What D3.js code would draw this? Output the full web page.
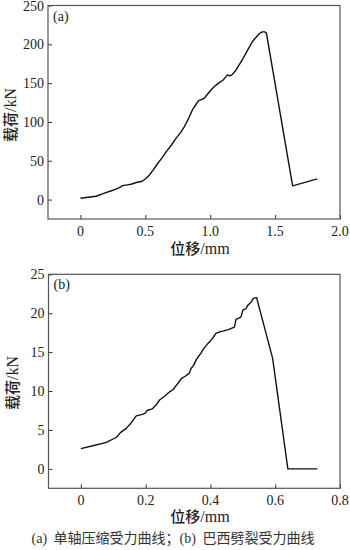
<!DOCTYPE html>
<html>
<head>
<meta charset="utf-8">
<script src="https://cdn.jsdelivr.net/npm/d3@7/dist/d3.min.js"></script>
<style>
  html, body { margin: 0; padding: 0; background: #fff; }
  svg { display: block; }
  .tick-label { font-family: "Liberation Serif", "DejaVu Serif", serif; font-size: 14px; fill: #222; }
  .axis-title { font-family: "Noto Sans CJK SC", sans-serif; font-size: 15px; font-weight: 500; fill: #222; }
  .axis-title .unit { font-family: "Liberation Serif", serif; font-weight: 400; font-size: 16px; }
  .panel-tag { font-family: "Liberation Serif", serif; font-size: 14px; fill: #222; }
  .caption { font-family: "Noto Sans CJK SC", sans-serif; font-size: 14px; fill: #333; }
  .caption .latin { font-family: "Liberation Serif", serif; }
</style>
</head>
<body>
<script>
// (a) Uniaxial compression: displacement (mm) vs load (kN)
const compDisp = [0, 0.06, 0.12, 0.18, 0.25, 0.30, 0.325, 0.36, 0.39, 0.43, 0.475, 0.50, 0.53, 0.56, 0.595,
  0.63, 0.66, 0.70, 0.736, 0.77, 0.80, 0.835, 0.864, 0.89, 0.91, 0.935, 0.954, 0.985, 1.018, 1.045, 1.07,
  1.10, 1.133, 1.15, 1.167, 1.195, 1.223, 1.25, 1.275, 1.30, 1.325, 1.35, 1.377, 1.40, 1.42, 1.433, 1.635, 1.825];
const compLoad = [1.7, 3.0, 4.3, 8.0, 12.0, 15.5, 18.0, 19.0, 19.8, 22.0, 23.6, 26.5, 31.4, 38.0, 46.5,
  54.0, 61.5, 70.0, 78.8, 86.0, 93.8, 105.0, 116.0, 122.5, 127.4, 129.0, 130.5, 137.0, 143.4, 147.5, 150.7,
  154.0, 160.6, 159.5, 160.6, 166.0, 173.5, 181.0, 188.6, 196.0, 203.6, 208.5, 213.6, 216.0, 216.0, 214.5, 17.6, 26.6];

// (b) Brazilian splitting: displacement (mm) vs load (kN)
const splitDisp = [0, 0.04, 0.079, 0.11, 0.122, 0.14, 0.155, 0.171, 0.19, 0.2, 0.204, 0.22, 0.232, 0.243,
  0.26, 0.274, 0.285, 0.292, 0.30, 0.31, 0.322, 0.335, 0.34, 0.348, 0.356, 0.362, 0.37, 0.376, 0.384,
  0.39, 0.397, 0.405, 0.41, 0.417, 0.428, 0.438, 0.455, 0.474, 0.479, 0.494, 0.497, 0.50, 0.51, 0.515,
  0.52, 0.527, 0.532, 0.5425, 0.592, 0.639, 0.73];
const splitLoad = [2.6, 3.0, 3.4, 4.06, 4.65, 5.2, 5.9, 6.8, 7.0, 7.2, 7.5, 7.7, 8.2, 8.85,
  9.4, 9.9, 10.2, 10.6, 11.0, 11.6, 11.9, 12.3, 12.9, 13.3, 14.0, 14.4, 14.8, 15.25, 15.7,
  16.0, 16.3, 16.7, 17.0, 17.4, 17.6, 17.7, 17.9, 18.2, 19.2, 19.5, 19.9, 20.4, 20.6, 21.0,
  21.2, 21.5, 21.9, 22.0, 14.2, 0, 0];

const compXTicks = [0, 0.5, 1.0, 1.5, 2.0];
const compYTicks = [0, 50, 100, 150, 200, 250];
const splitXTicks = [0, 0.2, 0.4, 0.6, 0.8];
const splitYTicks = [0, 5, 10, 15, 20, 25];

const W = 350, H = 550;
const svg = d3.select("body").append("svg").attr("width", W).attr("height", H);

function panel(opts) {
  const { left, right, top, bottom, xDomain, yDomain, xTicks, yTicks, xFmt, xs, ys, tag, yTitleX, xTitleY, yTitleY } = opts;
  const x = d3.scaleLinear().domain(xDomain).range([left, right]);
  const y = d3.scaleLinear().domain(yDomain).range([bottom, top]);
  const g = svg.append("g");

  // inward ticks on bottom and left edges
  const xAxis = d3.axisTop(x).tickValues(xTicks).tickSize(4).tickFormat("");
  g.append("g").attr("transform", `translate(0,${bottom})`).call(xAxis)
    .call(s => s.select(".domain").remove())
    .call(s => s.selectAll("line").attr("stroke", "#333").attr("stroke-width", 1));
  const yAxis = d3.axisRight(y).tickValues(yTicks).tickSize(4).tickFormat("");
  g.append("g").attr("transform", `translate(${left},0)`).call(yAxis)
    .call(s => s.select(".domain").remove())
    .call(s => s.selectAll("line").attr("stroke", "#333").attr("stroke-width", 1));

  // frame
  g.append("rect").attr("x", left).attr("y", top)
    .attr("width", right - left).attr("height", bottom - top)
    .attr("fill", "none").attr("stroke", "#555").attr("stroke-width", 1.2);

  // tick labels
  g.selectAll(".xl").data(xTicks).join("text")
    .attr("class", "tick-label").attr("x", d => x(d)).attr("y", bottom + 17)
    .attr("text-anchor", "middle").text(xFmt);
  g.selectAll(".yl").data(yTicks).join("text")
    .attr("class", "tick-label").attr("x", left - 4).attr("y", d => y(d) + 5)
    .attr("text-anchor", "end").text(d => d);

  // curve
  const pts = xs.map((v, i) => [v, ys[i]]);
  g.append("path").datum(pts)
    .attr("d", d3.line().x(d => x(d[0])).y(d => y(d[1])))
    .attr("fill", "none").attr("stroke", "#111").attr("stroke-width", 1.4)
    .attr("stroke-linejoin", "round");

  g.append("text").attr("class", "panel-tag").attr("x", left + 5).attr("y", top + 15).text(tag);

  // axis titles
  const xt = g.append("text").attr("class", "axis-title").attr("x", 200)
    .attr("y", xTitleY).attr("text-anchor", "middle");
  xt.append("tspan").text("位移");
  xt.append("tspan").attr("class", "unit").text("/mm");
  const yt = g.append("text").attr("class", "axis-title")
    .attr("transform", `translate(${yTitleX},${yTitleY}) rotate(-90)`)
    .attr("text-anchor", "middle");
  yt.append("tspan").text("载荷");
  yt.append("tspan").attr("class", "unit").text("/kN");
}

panel({
  left: 48, right: 340, top: 5.5, bottom: 219,
  xDomain: [-0.25, 2.0], yDomain: [-25, 250],
  xTicks: compXTicks, yTicks: compYTicks,
  xFmt: d => d === 0 ? "0" : d.toFixed(1),
  xs: compDisp, ys: compLoad, tag: "(a)", yTitleX: 16, xTitleY: 254, yTitleY: 115
});

panel({
  left: 48.5, right: 340, top: 274.3, bottom: 488.3,
  xDomain: [-0.1, 0.8], yDomain: [-2.5, 25],
  xTicks: splitXTicks, yTicks: splitYTicks,
  xFmt: d => d === 0 ? "0" : d.toFixed(1),
  xs: splitDisp, ys: splitLoad, tag: "(b)", yTitleX: 18, xTitleY: 522, yTitleY: 383
});

const cap = svg.append("text").attr("class", "caption").attr("x", 173).attr("y", 543).attr("text-anchor", "middle");
cap.append("tspan").attr("class", "latin").text("(a) ");
cap.append("tspan").attr("dx", 3).text("单轴压缩受力曲线；");
cap.append("tspan").attr("class", "latin").text("(b) ");
cap.append("tspan").attr("dx", 3).text("巴西劈裂受力曲线");
</script>
</body>
</html>
